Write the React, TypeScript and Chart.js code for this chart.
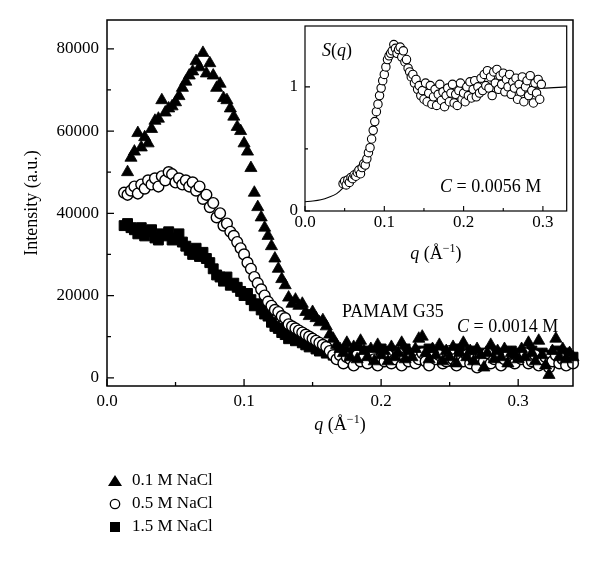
import React, { useEffect, useRef } from "react";
import { Chart, registerables } from "chart.js";
Chart.register(...registerables);

// ---------- main chart data ----------
const qMain = [
  0.0125, 0.015, 0.0175, 0.02, 0.0225, 0.025, 0.0275, 0.03, 0.0325, 0.035,
  0.0375, 0.04, 0.0425, 0.045, 0.0475, 0.05, 0.0525, 0.055, 0.0575, 0.06,
  0.0625, 0.065, 0.0675, 0.07, 0.0725, 0.075, 0.0775, 0.08, 0.0825, 0.085,
  0.0875, 0.09, 0.0925, 0.095, 0.0975, 0.1, 0.1025, 0.105, 0.1075, 0.11,
  0.1125, 0.115, 0.1175, 0.12, 0.1225, 0.125, 0.1275, 0.13, 0.1325, 0.135,
  0.1375, 0.14, 0.1425, 0.145, 0.1475, 0.15, 0.1525, 0.155, 0.1575, 0.16,
  0.1625, 0.165, 0.1675, 0.17, 0.1725, 0.175, 0.1775, 0.18, 0.1825, 0.185,
  0.1875, 0.19, 0.1925, 0.195, 0.1975, 0.2, 0.2025, 0.205, 0.2075, 0.21,
  0.2125, 0.215, 0.2175, 0.22, 0.2225, 0.225, 0.2275, 0.23, 0.2325, 0.235,
  0.2375, 0.24, 0.2425, 0.245, 0.2475, 0.25, 0.2525, 0.255, 0.2575, 0.26,
  0.2625, 0.265, 0.2675, 0.27, 0.2725, 0.275, 0.2775, 0.28, 0.2825, 0.285,
  0.2875, 0.29, 0.2925, 0.295, 0.2975, 0.3, 0.3025, 0.305, 0.3075, 0.31,
  0.3125, 0.315, 0.3175, 0.32, 0.3225, 0.325, 0.3275, 0.33, 0.3325, 0.335,
  0.3375, 0.34,
];

const int01M = [
  null, 50000, 53500, 55000, 59500, 56000, 58500, 57000, 60500, 62500,
  63000, 67500, 64500, 65500, 66000, 67000, 68500, 70500, 72000, 73500,
  74500, 77000, 75500, 79000, 74000, 76500, 73500, 70500, 71500, 68000,
  67500, 65500, 63500, 61000, 60000, 57000, 55000, 51000, 45000, 41500,
  39000, 36500, 34500, 32000, 29000, 26500, 24000, 22500, 19500, 18000,
  19000, 17500, 18000, 16000, 15000, 16000, 14500, 13500, 14000, 12500,
  10500, 9500, 8000, 7000, 6000, 8500, 5000, 7500, 4500, 9000,
  6500, 5000, 7000, 4000, 8000, 5500, 6500, 4000, 7500, 5000,
  6000, 8500, 4500, 6500, 5000, 7000, 9500, 10000, 6000, 4500,
  7000, 5500, 8000, 4000, 6500, 5000, 7500, 3500, 6000, 8500,
  5000, 6500, 4000, 7000, 5500, 2500, 6000, 8000, 4500, 6500,
  5000, 7000, 3500, 6000, 5500, 4500, 7000, 5000, 8500, 6000,
  4000, 9000, 5500, 3000, 700, 6500, 9500, 5000, 7000, 4500,
  6000, 5000,
];

const int05M = [
  45000, 44500, 45500, 46500, 44800, 47000, 46000, 48000, 47000, 48500,
  46500, 49000, 48000, 50000, 49500, 47500, 48500, 47000, 48000, 46500,
  47500, 45500, 46500, 43500, 44500, 41500, 42500, 39000, 40000, 37000,
  37500, 35500, 34500, 33000, 31500, 30000, 28000, 26500, 24500, 23000,
  21500, 20000, 18500, 17500, 16500, 16000, 15000, 14500, 13000, 12500,
  12000, 11500, 11000, 10500, 10000, 9500, 9000, 8500, 8000, 7500,
  6500, 5500, 4500, 5500, 3500, 5000, 4500, 3000, 5500, 4000,
  5000, 3500, 6000, 4500, 3000, 5000, 4000, 5500, 3500, 4500,
  6000, 3000, 5000, 4000, 5500, 3500, 4500, 6000, 4000, 3000,
  5000, 4500, 5500, 3500, 4000, 6500, 4500, 3000, 5000, 4000,
  5500, 3500, 4500, 2500, 5000, 4000, 6000, 3500, 4500, 5000,
  3000, 4500, 5500, 4000, 3500, 5000, 4500, 6000, 3500, 4000,
  5500, 3000, 4500, 5000, 2500, 4000, 5500, 3500, 4500, 3000,
  5000, 3500,
];

const int15M = [
  37000, 37500, 36500, 36000, 35000, 36500, 34500, 35500, 36000, 34000,
  33500, 35000, 34500, 35500, 33500, 34000, 35000, 33000, 32000, 31000,
  30000, 31500, 29500, 30500, 29000, 28000, 26500, 25000, 24500, 23500,
  24500, 22500, 23000, 22000, 21000, 20000, 20500, 19000, 17500, 18000,
  16500, 15500, 15000, 13500, 12500, 12000, 11000, 10500, 9500, 10000,
  9000, 9500, 8500, 8000, 7500, 8000, 7000, 6500, 7000, 6000,
  6500, 5500, 6000, 5000, 6500, 4500, 6000, 5500, 7000, 4500,
  5500, 6500, 5000, 6000, 4500, 7000, 5500, 5000, 6500, 4000,
  6000, 5500, 7000, 5000, 4500, 6000, 5500, 6500, 5000, 7000,
  4500, 6000, 5000, 6500, 5500, 4000, 6000, 5500, 7000, 5000,
  4500, 6500, 5500, 5000, 6000, 4500, 5500, 6500, 5000, 4000,
  6000, 5500, 5000, 6500, 4500, 5500, 6000, 5000, 4500, 6500,
  5500, 5000, 6000, 4500, 5500, 5000, 6500, 4000, 5500, 6000,
  4500, 5000,
];

const seriesLabels = ["0.1 M NaCl", "0.5 M NaCl", "1.5 M NaCl"];
const xTicksMain = [0, 0.1, 0.2, 0.3];
const xMinorMain = [0.05, 0.15, 0.25];
const yTicksMain = [0, 20000, 40000, 60000, 80000];
const yMinorMain = [10000, 30000, 50000, 70000];

// ---------- inset data ----------
const qInset = [
  0.048, 0.05, 0.052, 0.054, 0.056, 0.058, 0.06, 0.062, 0.064, 0.066,
  0.068, 0.07, 0.072, 0.074, 0.076, 0.078, 0.08, 0.082, 0.084, 0.086,
  0.088, 0.09, 0.092, 0.094, 0.096, 0.098, 0.1, 0.102, 0.104, 0.106,
  0.108, 0.11, 0.112, 0.114, 0.116, 0.118, 0.12, 0.122, 0.124, 0.126,
  0.128, 0.13, 0.132, 0.134, 0.136, 0.138, 0.14, 0.142, 0.144, 0.146,
  0.148, 0.15, 0.152, 0.154, 0.156, 0.158, 0.16, 0.162, 0.164, 0.166,
  0.168, 0.17, 0.172, 0.174, 0.176, 0.178, 0.18, 0.182, 0.184, 0.186,
  0.188, 0.19, 0.192, 0.194, 0.196, 0.198, 0.2, 0.202, 0.204, 0.206,
  0.208, 0.21, 0.212, 0.214, 0.216, 0.218, 0.22, 0.222, 0.224, 0.226,
  0.228, 0.23, 0.232, 0.234, 0.236, 0.238, 0.24, 0.242, 0.244, 0.246,
  0.248, 0.25, 0.252, 0.254, 0.256, 0.258, 0.26, 0.262, 0.264, 0.266,
  0.268, 0.27, 0.272, 0.274, 0.276, 0.278, 0.28, 0.282, 0.284, 0.286,
  0.288, 0.29, 0.292, 0.294, 0.296, 0.298,
];

const sInset = [
  0.22, 0.24, 0.21, 0.25, 0.23, 0.27, 0.26, 0.29, 0.28, 0.31,
  0.33, 0.3, 0.35, 0.38, 0.37, 0.42, 0.47, 0.51, 0.58, 0.65,
  0.72, 0.8, 0.86, 0.93, 0.99, 1.05, 1.1, 1.16, 1.22, 1.25,
  1.27, 1.29, 1.34, 1.31, 1.27, 1.3, 1.32, 1.24, 1.29, 1.2,
  1.22, 1.15, 1.12, 1.08, 1.1, 1.03, 1.06, 0.98, 1.01, 0.93,
  0.97, 0.9, 1.03, 0.88, 0.95, 1.01, 0.86, 0.92, 0.98, 0.85,
  0.94, 1.02, 0.89, 0.96, 0.84, 0.93, 0.99, 0.88, 0.95, 1.02,
  0.87, 0.94, 0.85, 0.97, 1.03, 0.9, 0.95, 0.88, 1.0, 0.93,
  1.04, 0.91, 0.98, 1.05, 0.92, 1.0, 0.95, 1.07, 0.97, 1.1,
  1.01, 1.13, 0.99, 1.08, 0.93, 1.12, 1.03, 1.14, 0.98, 1.09,
  1.02, 1.11, 0.96, 1.06, 1.0, 1.1, 0.94, 1.04, 0.99, 1.07,
  0.9, 1.02, 0.96, 1.08, 0.88, 1.0, 1.05, 0.93, 1.09, 0.97,
  0.87, 1.03, 0.95, 1.06, 0.9, 1.02,
];

const qFit = [
  0, 0.01, 0.02, 0.03, 0.04, 0.05, 0.06, 0.07, 0.08, 0.085,
  0.09, 0.095, 0.1, 0.105, 0.11, 0.115, 0.12, 0.125, 0.13, 0.14,
  0.15, 0.16, 0.18, 0.2, 0.22, 0.24, 0.26, 0.28, 0.3, 0.33,
];
const sFit = [
  0.075, 0.08, 0.09, 0.11, 0.14, 0.2, 0.26, 0.35, 0.48, 0.6,
  0.75, 0.9, 1.05, 1.17, 1.25, 1.28, 1.26, 1.2, 1.12, 1.0,
  0.93, 0.91, 0.92, 0.96, 1.0, 1.02, 1.02, 1.0, 0.99, 1.0,
];

const xTicksInset = [0, 0.1, 0.2, 0.3];
const xMinorInset = [0.05, 0.15, 0.25];
const yTicksInset = [0, 1];
const yMinorInset = [0.5];

const SERIF = "'Liberation Serif', 'DejaVu Serif', serif";

type Seg = { t: string; italic?: boolean; sup?: boolean };

function drawRich(
  ctx: CanvasRenderingContext2D,
  segs: Seg[],
  x: number,
  y: number,
  size: number,
  align: "left" | "center"
) {
  const fontFor = (s: Seg) =>
    `${s.italic ? "italic " : ""}${s.sup ? Math.round(size * 0.68) : size}px ${SERIF}`;
  let w = 0;
  segs.forEach((s) => {
    ctx.font = fontFor(s);
    w += ctx.measureText(s.t).width;
  });
  let cx = align === "center" ? x - w / 2 : x;
  ctx.textAlign = "left";
  ctx.textBaseline = "alphabetic";
  ctx.fillStyle = "#000";
  segs.forEach((s) => {
    ctx.font = fontFor(s);
    ctx.fillText(s.t, cx, s.sup ? y - size * 0.4 : y);
    cx += ctx.measureText(s.t).width;
  });
}

function drawTicks(
  ctx: CanvasRenderingContext2D,
  chart: any,
  xs: number[],
  xm: number[],
  ys: number[],
  ym: number[],
  major: number,
  minor: number
) {
  const a = chart.chartArea;
  const xS = chart.scales.x;
  const yS = chart.scales.y;
  ctx.beginPath();
  xs.forEach((v) => {
    const p = xS.getPixelForValue(v);
    ctx.moveTo(p, a.bottom);
    ctx.lineTo(p, a.bottom - major);
  });
  xm.forEach((v) => {
    const p = xS.getPixelForValue(v);
    ctx.moveTo(p, a.bottom);
    ctx.lineTo(p, a.bottom - minor);
  });
  ys.forEach((v) => {
    const p = yS.getPixelForValue(v);
    ctx.moveTo(a.left, p);
    ctx.lineTo(a.left + major, p);
  });
  ym.forEach((v) => {
    const p = yS.getPixelForValue(v);
    ctx.moveTo(a.left, p);
    ctx.lineTo(a.left + minor, p);
  });
  ctx.stroke();
}

const mainDecor = {
  id: "mainDecor",
  afterDraw(chart: any) {
    const ctx: CanvasRenderingContext2D = chart.ctx;
    const a = chart.chartArea;
    ctx.save();
    ctx.strokeStyle = "#000";
    ctx.lineWidth = 1.5;
    ctx.strokeRect(a.left, a.top, a.right - a.left, a.bottom - a.top);
    ctx.lineWidth = 1.3;
    drawTicks(ctx, chart, xTicksMain, xMinorMain, yTicksMain, yMinorMain, 7, 4);

    // annotations
    drawRich(ctx, [{ t: "PAMAM G35" }], 342, 317, 18, "left");
    drawRich(ctx, [{ t: "C", italic: true }, { t: " = 0.0014 M" }], 457, 332, 18, "left");

    // x axis title
    const cx = (a.left + a.right) / 2;
    drawRich(
      ctx,
      [{ t: "q", italic: true }, { t: " (Å" }, { t: "−1", sup: true }, { t: ")" }],
      cx,
      430,
      18,
      "center"
    );
    // y axis title
    ctx.save();
    ctx.translate(37, (a.top + a.bottom) / 2);
    ctx.rotate(-Math.PI / 2);
    drawRich(ctx, [{ t: "Intensity (a.u.)" }], 0, 0, 18, "center");
    ctx.restore();

    // legend
    const rows = [481, 504, 527];
    const mx = 115;
    chart.data.datasets.forEach((ds: any, i: number) => {
      const y = rows[i];
      ctx.beginPath();
      ctx.lineWidth = 1.3;
      ctx.strokeStyle = "#000";
      if (ds.pointStyle === "triangle") {
        ctx.moveTo(mx, y - 6);
        ctx.lineTo(mx + 7, y + 5);
        ctx.lineTo(mx - 7, y + 5);
        ctx.closePath();
        ctx.fillStyle = "#000";
        ctx.fill();
      } else if (ds.pointStyle === "circle") {
        ctx.arc(mx, y, 4.7, 0, Math.PI * 2);
        ctx.fillStyle = "#fff";
        ctx.fill();
        ctx.stroke();
      } else {
        ctx.rect(mx - 5, y - 5, 10, 10);
        ctx.fillStyle = "#000";
        ctx.fill();
      }
      ctx.font = `17px ${SERIF}`;
      ctx.fillStyle = "#000";
      ctx.textAlign = "left";
      ctx.textBaseline = "middle";
      ctx.fillText(ds.label, 132, y);
    });
    ctx.restore();
  },
};

const insetDecor = {
  id: "insetDecor",
  beforeDatasetsDraw(chart: any) {
    const ctx: CanvasRenderingContext2D = chart.ctx;
    const a = chart.chartArea;
    ctx.save();
    ctx.fillStyle = "#fff";
    ctx.fillRect(a.left, a.top, a.right - a.left, a.bottom - a.top);
    ctx.restore();
  },
  afterDraw(chart: any) {
    const ctx: CanvasRenderingContext2D = chart.ctx;
    const a = chart.chartArea;
    ctx.save();
    ctx.strokeStyle = "#000";
    ctx.lineWidth = 1.2;
    ctx.strokeRect(a.left, a.top, a.right - a.left, a.bottom - a.top);
    ctx.lineWidth = 1.1;
    drawTicks(ctx, chart, xTicksInset, xMinorInset, yTicksInset, yMinorInset, 5, 3);
    drawRich(
      ctx,
      [{ t: "S", italic: true }, { t: "(" }, { t: "q", italic: true }, { t: ")" }],
      a.left + 17,
      a.top + 30,
      18,
      "left"
    );
    drawRich(ctx, [{ t: "C", italic: true }, { t: " = 0.0056 M" }], a.left + 135, a.top + 166, 18, "left");
    drawRich(
      ctx,
      [{ t: "q", italic: true }, { t: " (Å" }, { t: "−1", sup: true }, { t: ")" }],
      (a.left + a.right) / 2,
      239,
      18,
      "center"
    );
    ctx.restore();
  },
};

const noEdgePad = (s: any) => {
  s.paddingTop = 0;
  s.paddingBottom = 0;
  s.paddingLeft = 0;
  s.paddingRight = 0;
};

export default function App() {
  const mainRef = useRef<HTMLCanvasElement>(null);
  const insetRef = useRef<HTMLCanvasElement>(null);

  useEffect(() => {
    const tickFont = { family: SERIF, size: 17 };
    const mainChart = new Chart(mainRef.current as HTMLCanvasElement, {
      type: "scatter",
      data: {
        datasets: [
          {
            label: seriesLabels[0],
            data: qMain.map((q, i) => ({ x: q, y: int01M[i] as any })),
            pointStyle: "triangle",
            pointRadius: 7,
            backgroundColor: "#000",
            borderColor: "#000",
            borderWidth: 0.8,
            clip: false as any,
          },
          {
            label: seriesLabels[1],
            data: qMain.map((q, i) => ({ x: q, y: int05M[i] })),
            pointStyle: "circle",
            pointRadius: 5.4,
            backgroundColor: "#fff",
            borderColor: "#000",
            borderWidth: 1.4,
            clip: false as any,
          },
          {
            label: seriesLabels[2],
            data: qMain.map((q, i) => ({ x: q, y: int15M[i] })),
            pointStyle: "rect",
            pointRadius: 7,
            backgroundColor: "#000",
            borderColor: "#000",
            borderWidth: 1,
            clip: false as any,
          },
        ],
      },
      options: {
        responsive: false,
        animation: false,
        devicePixelRatio: 1,
        events: [],
        layout: { padding: { left: 0, top: 20, right: 27, bottom: 135 } },
        plugins: { legend: { display: false }, tooltip: { enabled: false } },
        scales: {
          x: {
            type: "linear",
            min: 0,
            max: 0.34,
            grid: { display: false, drawTicks: false },
            border: { display: false },
            afterBuildTicks: (s: any) => {
              s.ticks = xTicksMain.map((v) => ({ value: v }));
            },
            afterFit: (s: any) => {
              s.height = 40;
              noEdgePad(s);
            },
            ticks: {
              padding: 5,
              color: "#000",
              font: tickFont,
              maxRotation: 0,
              autoSkip: false,
              callback: (v: any) => Number(v).toFixed(1),
            },
          },
          y: {
            type: "linear",
            min: -2000,
            max: 87000,
            grid: { display: false, drawTicks: false },
            border: { display: false },
            afterBuildTicks: (s: any) => {
              s.ticks = yTicksMain.map((v) => ({ value: v }));
            },
            afterFit: (s: any) => {
              s.width = 107;
              noEdgePad(s);
            },
            ticks: {
              padding: 8,
              color: "#000",
              font: tickFont,
              autoSkip: false,
              callback: (v: any) => String(v),
            },
          },
        },
      },
      plugins: [mainDecor],
    } as any);

    const insetChart = new Chart(insetRef.current as HTMLCanvasElement, {
      type: "scatter",
      data: {
        datasets: [
          {
            label: "S(q) data",
            data: qInset.map((q, i) => ({ x: q, y: sInset[i] })),
            pointStyle: "circle",
            pointRadius: 4.2,
            backgroundColor: "#fff",
            borderColor: "#000",
            borderWidth: 1.1,
          },
          {
            label: "fit",
            data: qFit.map((q, i) => ({ x: q, y: sFit[i] })),
            showLine: true,
            pointRadius: 0,
            borderColor: "#000",
            borderWidth: 1.1,
            cubicInterpolationMode: "monotone",
          },
        ],
      },
      options: {
        responsive: false,
        animation: false,
        devicePixelRatio: 1,
        events: [],
        layout: { padding: { left: 0, top: 6, right: 3, bottom: 46 } },
        plugins: { legend: { display: false }, tooltip: { enabled: false } },
        scales: {
          x: {
            type: "linear",
            min: 0,
            max: 0.33,
            grid: { display: false, drawTicks: false },
            border: { display: false },
            afterBuildTicks: (s: any) => {
              s.ticks = xTicksInset.map((v) => ({ value: v }));
            },
            afterFit: (s: any) => {
              s.height = 25;
              noEdgePad(s);
            },
            ticks: {
              padding: 1,
              color: "#000",
              font: tickFont,
              maxRotation: 0,
              autoSkip: false,
              callback: (v: any) => Number(v).toFixed(1),
            },
          },
          y: {
            type: "linear",
            min: 0,
            max: 1.49,
            grid: { display: false, drawTicks: false },
            border: { display: false },
            afterBuildTicks: (s: any) => {
              s.ticks = yTicksInset.map((v) => ({ value: v }));
            },
            afterFit: (s: any) => {
              s.width = 55;
              noEdgePad(s);
            },
            ticks: {
              padding: 7,
              color: "#000",
              font: tickFont,
              autoSkip: false,
              callback: (v: any) => String(v),
            },
          },
        },
      },
      plugins: [insetDecor],
    } as any);

    return () => {
      mainChart.destroy();
      insetChart.destroy();
    };
  }, []);

  return (
    <div style={{ position: "absolute", left: 0, top: 0, width: 600, height: 561, background: "#fff" }}>
      <canvas ref={mainRef} width={600} height={561} style={{ position: "absolute", left: 0, top: 0 }} />
      <canvas ref={insetRef} width={322} height={262} style={{ position: "absolute", left: 250, top: 20 }} />
    </div>
  );
}
